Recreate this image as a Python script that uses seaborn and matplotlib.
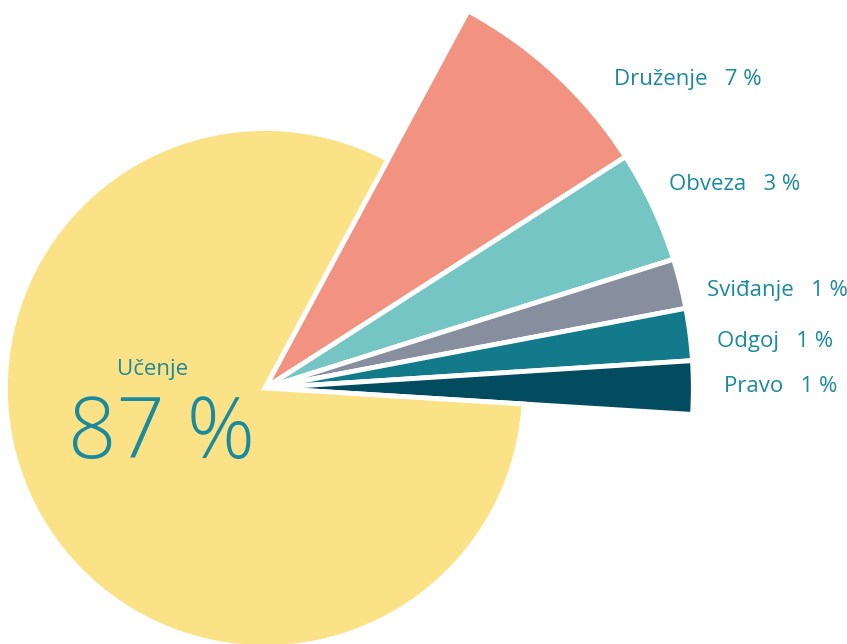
import matplotlib
matplotlib.use("Agg")
import matplotlib.pyplot as plt
import seaborn as sns

# Categories, as labelled (top to bottom, then the big slice)
categories = ["Druženje", "Obveza", "Sviđanje", "Odgoj", "Pravo", "Učenje"]
label_pct = [7, 3, 1, 1, 1, 87]
# share of the circle each wedge takes in the picture
drawn_share = [8.06, 4.22, 1.88, 1.96, 2.00, 81.88]

colors = ["#F29382", "#74C5C3", "#878F9E", "#127A8B", "#034C60", "#FCE287"]
text_color = "#1A8A9E"

sns.set_theme(style="white")
plt.rcParams["font.family"] = ["Open Sans", "DejaVu Sans"]

fig = plt.figure(figsize=(8.47, 6.44), dpi=100)
ax = fig.add_axes([0, 0, 1, 1])

wedges, _ = ax.pie(
    drawn_share,
    colors=colors,
    startangle=61.7,
    counterclock=False,
    radius=1.01,
    wedgeprops=dict(edgecolor="white", linewidth=3.5),
)
# the small slices stick out further than the big one
for w in wedges[:-1]:
    w.set_radius(1.667)

# label anchors (left edge, baseline)
label_xy = [(1.358, 1.179), (1.572, 0.770), (1.720, 0.358), (1.759, 0.160), (1.786, -0.016)]
for (x, y), name, pct in zip(label_xy, categories[:-1], label_pct[:-1]):
    ax.text(x, y, f"{name}   {pct} %", ha="left", va="baseline", fontsize=16, color=text_color)

ax.text(-0.436, 0.051, categories[-1], ha="center", va="baseline", fontsize=16, color=text_color)
ax.text(-0.401, -0.272, f"{label_pct[-1]} %", ha="center", va="baseline", fontsize=61,
        color=text_color, fontweight="light")

ax.set_xlim(-1.031, 2.265)
ax.set_ylim(-0.996, 1.510)
ax.set_aspect("auto")
ax.axis("off")

fig.savefig("out.png", dpi=100, facecolor="white")
